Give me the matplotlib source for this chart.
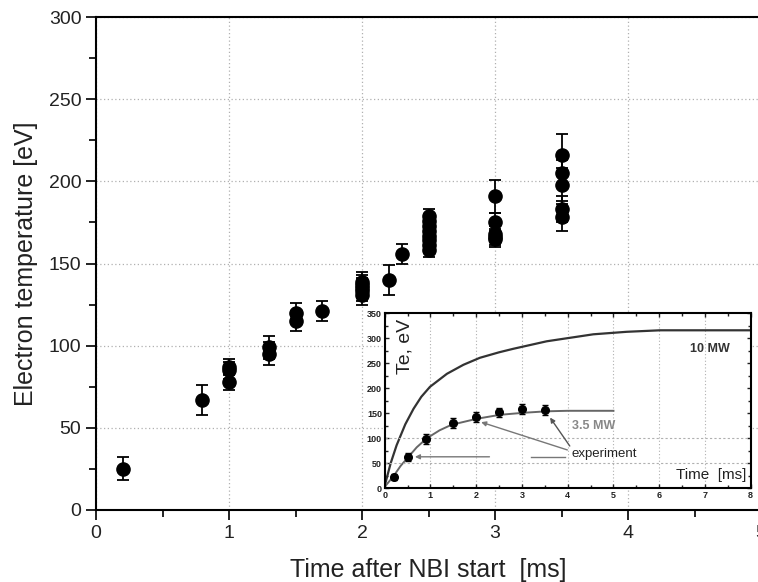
import matplotlib
matplotlib.use('Agg')
import matplotlib.pyplot as plt
from matplotlib.ticker import MultipleLocator

plt.rcParams['font.family'] = ['Liberation Sans', 'DejaVu Sans']

# main plot: measured Te after NBI start
t_main = [0.2, 0.8, 1.0, 1.0, 1.0, 1.3, 1.3, 1.5, 1.5, 1.7,
          2.0, 2.0, 2.0, 2.0, 2.0, 2.2, 2.3,
          2.5, 2.5, 2.5, 2.5, 2.5, 2.5, 2.5, 2.5,
          3.0, 3.0, 3.0, 3.0, 3.0,
          3.5, 3.5, 3.5, 3.5, 3.5]
te_main = [25, 67, 87, 85, 78, 99, 95, 120, 115, 121,
           139, 137, 135, 133, 131, 140, 156,
           179, 176, 173, 170, 167, 164, 161, 158,
           191, 175, 168, 166, 165,
           216, 205, 198, 183, 178]
err_main = [7, 9, 5, 5, 5, 7, 7, 6, 6, 6,
            6, 6, 6, 6, 6, 9, 6,
            4, 4, 4, 4, 4, 4, 4, 4,
            10, 6, 5, 5, 5,
            13, 8, 10, 8, 8]

# inset: model curves and experiment
t_10mw = [0, 0.13, 0.26, 0.45, 0.63, 0.8, 0.99, 1.36, 1.72, 2.08, 2.5, 2.81, 3.2, 3.54, 3.83, 4.27, 4.56, 5.29, 6.02, 7, 8]
te_10mw = [5, 50, 86, 128, 159, 183, 203, 229, 247, 261, 272, 279, 287, 294, 298, 304, 308, 313, 316, 316, 316]
t_35mw = [0, 0.19, 0.35, 0.52, 0.7, 0.92, 1.2, 1.46, 2.01, 2.52, 3.03, 3.54, 4.0, 5.0]
te_35mw = [3, 24, 45, 63, 82, 100, 116, 127, 139, 147, 151, 154, 155, 155]
t_exp = [0.2, 0.5, 0.9, 1.5, 2.0, 2.5, 3.0, 3.5]
te_exp = [23, 63, 99, 130, 142, 152, 159, 157]
err_exp = [6, 8, 10, 10, 10, 9, 10, 10]

fig = plt.figure(figsize=(7.58, 5.82), dpi=100)
ax = fig.add_axes([96/758, 1-510/582, (761-96)/758, (510-17)/582])

ax.errorbar(t_main, te_main, yerr=err_main, fmt='o', color='black', ms=9.5,
            elinewidth=1.3, capsize=4.5, capthick=1.3, zorder=3)
ax.set_xlim(0, 5)
ax.set_ylim(0, 300)
ax.xaxis.set_major_locator(MultipleLocator(1))
ax.xaxis.set_minor_locator(MultipleLocator(0.5))
ax.yaxis.set_major_locator(MultipleLocator(50))
ax.yaxis.set_minor_locator(MultipleLocator(25))
ax.tick_params(which='both', direction='out', width=1.4, labelsize=14, colors='#222222', right=True)
ax.tick_params(which='major', length=7)
ax.tick_params(which='minor', length=5)
for s in ax.spines.values():
    s.set_linewidth(1.5)
ax.grid(True, which='major', color='#b0b0b0', linestyle=(0, (1, 2)), linewidth=0.9)
ax.set_xlabel('Time after NBI start  [ms]', fontsize=18, color='#222222', labelpad=12)
ax.set_ylabel('Electron temperature [eV]', fontsize=18, color='#222222', labelpad=8)

# inset
ins = fig.add_axes([384.7/758, 1-488.3/582, 366/758, 175/582])
ins.set_facecolor('white')
ins.plot(t_10mw, te_10mw, color='#333333', lw=1.6)
ins.plot(t_35mw, te_35mw, color='#666666', lw=1.4)
ins.errorbar(t_exp, te_exp, yerr=err_exp, fmt='o', color='black', ms=5.5,
             elinewidth=1, capsize=2.5, capthick=1, zorder=3)
ins.set_xlim(0, 8)
ins.set_ylim(0, 350)
ins.xaxis.set_major_locator(MultipleLocator(1))
ins.xaxis.set_minor_locator(MultipleLocator(0.5))
ins.yaxis.set_major_locator(MultipleLocator(50))
ins.yaxis.set_minor_locator(MultipleLocator(25))
ins.tick_params(which='both', direction='in', top=True, right=True, width=1, labelsize=6.5, colors='#222222', pad=2)
ins.tick_params(which='major', length=3)
ins.tick_params(which='minor', length=2)
for lab in ins.get_xticklabels() + ins.get_yticklabels():
    lab.set_fontweight('bold')
for s in ins.spines.values():
    s.set_linewidth(1.5)
ins.grid(True, axis='x', color='#b0b0b0', linestyle=(0, (1, 2)), linewidth=0.8)
for yv in [50, 100]:
    ins.axhline(yv, color='#b0b0b0', linestyle=(0, (2, 2)), linewidth=0.8)

ins.annotate('', xy=(0.6, 63), xytext=(2.35, 63),
             arrowprops=dict(arrowstyle='-|>', color='#777777', lw=1, mutation_scale=7))
ins.plot([3.2, 3.95], [63, 63], color='#777777', lw=1)
ins.annotate('', xy=(2.05, 134), xytext=(4.05, 75),
             arrowprops=dict(arrowstyle='-|>', color='#777777', lw=1, mutation_scale=7))
ins.annotate('', xy=(3.58, 146), xytext=(4.08, 80),
             arrowprops=dict(arrowstyle='-|>', color='#555555', lw=1, mutation_scale=7))

ins.text(0.055, 0.97, 'Te, eV', transform=ins.transAxes, rotation=90, ha='center', va='top', fontsize=14, color='#222222')
ins.text(7.1, 279, '10 MW', ha='center', va='center', fontsize=9, fontweight='bold', color='#333333')
ins.text(4.56, 124, '3.5 MW', ha='center', va='center', fontsize=9, fontweight='bold', color='#888888')
ins.text(4.08, 68, 'experiment', ha='left', va='center', fontsize=9.5, color='#222222')
ins.text(7.9, 26, 'Time  [ms]', ha='right', va='center', fontsize=11, color='#222222')

fig.savefig('out.png', dpi=100)
